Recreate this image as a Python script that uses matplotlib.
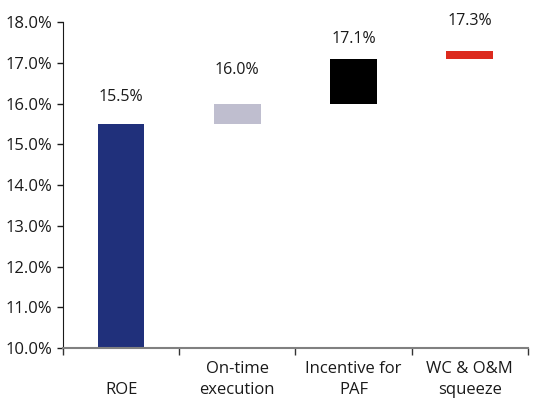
import numpy as np
import matplotlib
matplotlib.use("Agg")
import matplotlib.pyplot as plt
from matplotlib.ticker import FixedLocator, FuncFormatter

plt.rcParams["font.family"] = ["Open Sans", "DejaVu Sans"]

CATEGORIES = ["\nROE", "On-time\nexecution", "Incentive for\nPAF", "WC & O&M\nsqueeze"]
STARTS = [10.0, 15.5, 16.0, 17.1]
ENDS = [15.5, 16.0, 17.1, 17.3]

COLORS = ["#20307B", "#BFBECF", "#000000", "#DC2A1E"]
# label offsets above bar top, in points
LABEL_OFFSETS = [19, 24, 14, 21]

fig = plt.figure(figsize=(5.43, 3.98), dpi=100)
ax = fig.add_axes([0.116, 0.1256, 0.856, 0.8191])

x = np.arange(len(CATEGORIES))
heights = np.array(ENDS) - np.array(STARTS)
ax.bar(x, heights, bottom=STARTS, width=0.4, color=COLORS)

for xi, top, off in zip(x, ENDS, LABEL_OFFSETS):
    ax.annotate(f"{top:.1f}%", (xi, top), xytext=(0, off), textcoords="offset points",
                ha="center", va="center", fontsize=11.5, color="#1a1a1a")

ax.set_xlim(-0.5, len(CATEGORIES) - 0.5)
ax.set_ylim(10, 18)
ax.set_yticks(np.arange(10, 18.5, 1))
ax.yaxis.set_major_formatter(FuncFormatter(lambda v, p: f"{v:.1f}%"))
ax.tick_params(axis="y", labelsize=12, length=4, width=1, colors="#1a1a1a")

ax.set_xticks(x)
ax.set_xticklabels(CATEGORIES, fontsize=12, linespacing=1.45)
ax.xaxis.set_minor_locator(FixedLocator(np.arange(-0.5, len(CATEGORIES), 1.0)))
ax.tick_params(axis="x", which="major", length=0, pad=9, colors="#1a1a1a")
ax.tick_params(axis="x", which="minor", length=5, width=1, color="#333333")

for s in ["top", "right"]:
    ax.spines[s].set_visible(False)
ax.spines["left"].set_color("#1a1a1a")
ax.spines["bottom"].set_color("#808080")
ax.spines["bottom"].set_linewidth(1.5)

fig.savefig("out.png", dpi=100)
